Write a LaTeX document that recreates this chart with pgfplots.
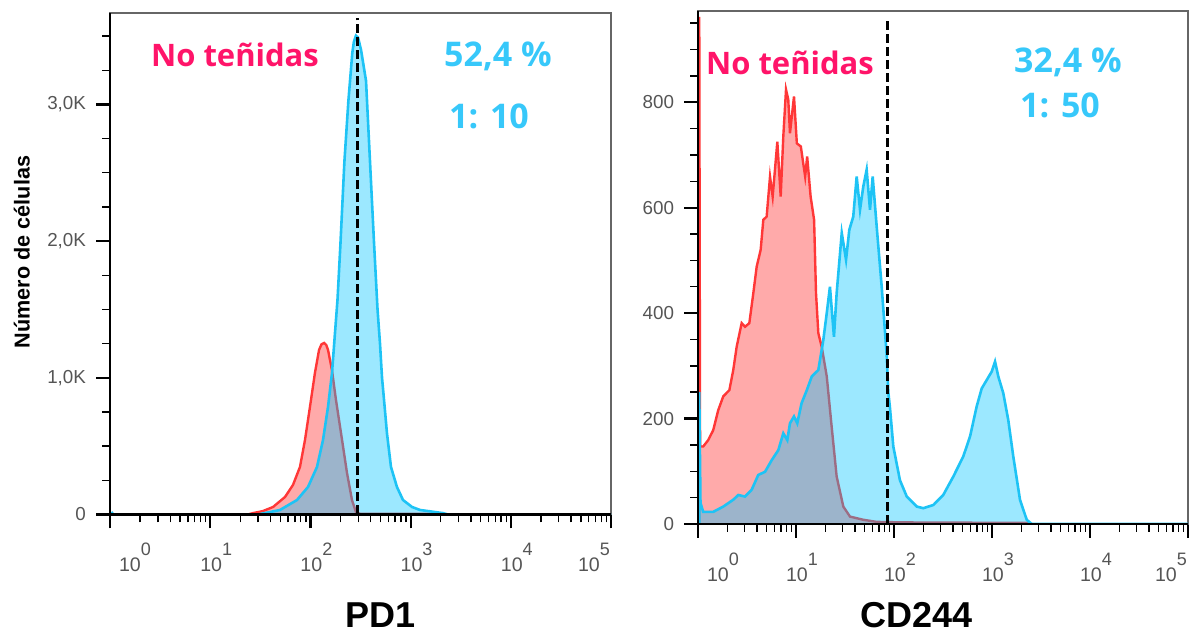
\documentclass[border=0pt]{standalone}
\usepackage{pgfplots}
\pgfplotsset{compat=1.18}
\usepackage{pgfplotstable}
\usepackage{fontspec}
\setmainfont{Liberation Sans}
\newfontfamily\annotfont{Open Sans}

\definecolor{redline}{RGB}{255,55,55}
\definecolor{redfill}{RGB}{255,170,170}
\definecolor{cyanline}{RGB}{30,195,245}
\definecolor{cyanfill}{RGB}{0,196,255}
\definecolor{pinktext}{RGB}{255,20,105}
\definecolor{cyantext}{RGB}{55,200,250}
\definecolor{ticktext}{RGB}{85,85,85}

\newcommand{\dec}[1]{10\raisebox{8pt}{\fontsize{9}{9}\selectfont #1}}

% PD1 histograms (events per channel)
\pgfplotstableread{
x y
23.8 0
26.7 10
33.6 25
42.4 55
55.8 128
67 216
78.7 348
88.3 545
99 787
111 1036
122 1204
129 1245
137 1255
144 1240
150 1204
164 1058
180 838
207 545
232 303
260 106
285 18
313 5
1550 4
1980 0
}\pdredtab

\pgfplotstableread{
x y
1.03 18
1.08 0
30 0
49.7 33
73.5 106
94.6 201
116.4 348
133.6 545
149.9 787
164.3 1036
176 1329
186.4 1570
199.7 1987
218.4 2580
239.4 3026
262 3378
272 3460
285 3503
298.5 3490
320 3400
359 3173
393.6 2580
431.5 1987
467.7 1500
495 1250
518.6 1000
543 838
581 594
637 348
731 201
840 106
1033 55
1242 33
2104 10
2361 0
100000 0
}\pdcyantab

% CD244 histograms
\pgfplotstableread{
x y
1.03 0
1.03 962
1.05 147
1.13 147
1.27 159
1.43 178
1.61 216
1.81 242
2.09 254
2.29 292
2.48 336
2.79 381
3.02 374
3.34 381
3.67 438
3.97 488
4.36 520
4.64 577
5.02 583
5.43 659
5.78 621
6.45 725
6.98 621
7.42 735
7.91 824
8.34 805
8.68 741
9.54 811
10.2 722
11.2 716
12.4 659
13.0 697
14.1 621
15.3 577
16.0 438
16.9 362
18.3 336
20.6 280
23.1 185
26.0 90
30.4 33
35.6 14
48.6 8
66.6 4
124 3
2275 2
2570 0
}\cdredtab

\pgfplotstableread{
x y
1.03 0
1.03 250
1.06 40
1.13 23
1.43 23
1.81 33
2.29 46
2.58 55
3.02 52
3.53 65
4.12 93
4.83 99
5.65 121
6.60 140
7.42 172
8.15 159
8.68 191
9.54 204
10.3 191
11.4 229
12.9 254
14.5 280
16.9 292
19.0 349
20.6 400
22.2 450
24.4 355
26.0 438
29.3 552
32.4 501
35.0 558
38.4 583
41.6 659
45.0 596
48.6 640
52.6 672
56.9 596
60.6 659
66.6 564
74.9 450
79.1 390
84.3 320
87.5 250
91.0 220
98.4 147
115 83
135 52
171 33
199 30
252 36
318 55
403 90
509 128
597 166
698 223
785 257
883 273
993 289
1074 308
1159 280
1304 248
1466 197
1649 128
1931 46
2261 8
2541 0
100000 0
}\cdcyantab

\pgfplotsset{
  flow/.style={
    scale only axis,
    xmin=1, xmax=100000, ymin=0,
    xtick={1,10,100,1000,10000,100000},
    minor xtick={2,3,4,5,6,7,8,9,20,30,40,50,60,70,80,90,200,300,400,500,600,700,800,900,2000,3000,4000,5000,6000,7000,8000,9000,20000,30000,40000,50000,60000,70000,80000,90000},
    xticklabels={\hspace*{19pt}\dec{0},\dec{1},\dec{2},\dec{3},\dec{4},\dec{5}\hspace*{23pt}},
    xtick pos=bottom, ytick pos=left, tick align=outside,
    major tick length=7pt, minor tick length=4pt,
    every major tick/.append style={line width=1.1pt, black},
    every minor tick/.append style={line width=0.7pt, black},
    axis line style={draw=black!60, line width=0.8pt},
    xticklabel style={font=\fontsize{9.8}{10}\selectfont, text=ticktext, anchor=base, yshift=-21.75pt, xshift=3pt},
    yticklabel style={font=\fontsize{9.4}{10}\selectfont, text=ticktext, anchor=east, xshift=-1.5pt},
    after end axis/.append code={
      \draw[black, line width=1.2pt] (rel axis cs:0,1) -- (rel axis cs:0,0) -- (rel axis cs:1,0);
    },
  },
  cutline/.style={black, line width=1.5pt, dash pattern=on 4.5pt off 2pt},
}

\begin{document}
\begin{tikzpicture}
\useasboundingbox (0,0) rectangle (598pt,317.5pt);

% PD1 panel
\begin{semilogxaxis}[flow, at={(55pt,60.25pt)}, anchor=south west, width=250.5pt, height=250.75pt,
  ymax=3669,
  ytick={0,1000,2000,3000}, yticklabels={0,{1,0K},{2,0K},{3,0K}},
  minor ytick={250,500,750,1250,1500,1750,2250,2500,2750,3250,3500}]
  \addplot[fill=redfill, draw=none] table {\pdredtab} \closedcycle;
  \addplot[redline, line width=1.2pt] table {\pdredtab};
  \addplot[fill=cyanfill, fill opacity=0.39, draw=none] table {\pdcyantab} \closedcycle;
  \addplot[cyanline, line width=1.3pt] table {\pdcyantab};
  \addplot[cutline] coordinates {(292,0) (292,3635)};
\end{semilogxaxis}

% CD244 panel
\begin{semilogxaxis}[flow, at={(349pt,55.5pt)}, anchor=south west, width=245pt, height=256.5pt,
  ymax=973,
  ytick={0,200,400,600,800}, yticklabels={0,200,400,600,800},
  minor ytick={50,100,150,250,300,350,450,500,550,650,700,750,850,900,950}]
  \addplot[fill=redfill, draw=none] table {\cdredtab} \closedcycle;
  \addplot[redline, line width=1.2pt] table {\cdredtab};
  \addplot[fill=cyanfill, fill opacity=0.39, draw=none] table {\cdcyantab} \closedcycle;
  \addplot[cyanline, line width=1.3pt] table {\cdcyantab};
  \addplot[cutline] coordinates {(84.9,0) (84.9,960)};
\end{semilogxaxis}

% axis titles
\node[rotate=90, anchor=base, font=\bfseries\fontsize{10.8}{12}\selectfont] at (14.8pt,191.5pt) {Número de células};
\node[anchor=base, font=\bfseries\fontsize{18}{20}\selectfont] at (190.5pt,3.6pt) {PD1};
\node[anchor=base, font=\bfseries\fontsize{18}{20}\selectfont] at (458.5pt,3.6pt) {CD244};

% gate annotations
\node[anchor=base, text=pinktext, font=\annotfont\bfseries\fontsize{15.5}{17}\selectfont] at (117.5pt,284pt) {No teñidas};
\node[anchor=base, text=cyantext, font=\annotfont\bfseries\fontsize{17}{19}\selectfont] at (249pt,284.1pt) {52,4 \%};
\node[anchor=base, text=cyantext, font=\annotfont\bfseries\fontsize{17}{19}\selectfont] at (244.5pt,253pt) {1: 10};
\node[anchor=base, text=pinktext, font=\annotfont\bfseries\fontsize{15.5}{17}\selectfont] at (395pt,280pt) {No teñidas};
\node[anchor=base, text=cyantext, font=\annotfont\bfseries\fontsize{17}{19}\selectfont] at (534pt,281pt) {32,4 \%};
\node[anchor=base, text=cyantext, font=\annotfont\bfseries\fontsize{17}{19}\selectfont] at (530pt,258.8pt) {1: 50};
\end{tikzpicture}
\end{document}
